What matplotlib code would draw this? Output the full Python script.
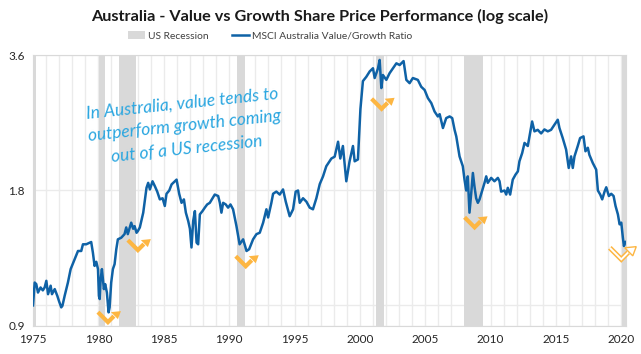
import numpy as np
import matplotlib
matplotlib.use("Agg")
import matplotlib.pyplot as plt
from matplotlib.ticker import FixedLocator, MultipleLocator, NullFormatter
from matplotlib.transforms import ScaledTranslation
from matplotlib.patches import Polygon
import matplotlib.patheffects as pe

plt.rcParams['font.family'] = ['Lato', 'DejaVu Sans']

# value/growth ratio (decimal year, ratio)
years = [1975.0, 1975.13, 1975.25, 1975.38, 1975.58, 1975.75, 1975.89, 1976.02, 1976.15, 1976.35,
         1976.45, 1976.66, 1976.86, 1977.0, 1977.16, 1977.25, 1977.42, 1977.67, 1977.88, 1978.13,
         1978.44, 1978.69, 1978.82, 1979.07, 1979.45, 1979.58, 1979.71, 1979.84, 1979.97, 1980.04,
         1980.1, 1980.17, 1980.27, 1980.42, 1980.52, 1980.65, 1980.78, 1980.86, 1980.98, 1981.11,
         1981.24, 1981.37, 1981.49, 1981.75, 1982.0, 1982.13, 1982.25, 1982.51, 1982.66, 1982.77,
         1982.92, 1983.02, 1983.17, 1983.43, 1983.68, 1983.81, 1983.94, 1984.14, 1984.32, 1984.5,
         1984.7, 1984.91, 1985.08, 1985.21, 1985.42, 1985.6, 1985.85, 1985.98, 1986.18, 1986.36,
         1986.54, 1986.69, 1986.87, 1987.0, 1987.12, 1987.25, 1987.38, 1987.51, 1987.63, 1987.76,
         1987.96, 1988.14, 1988.32, 1988.52, 1988.73, 1988.9, 1989.16, 1989.29, 1989.41, 1989.54,
         1989.74, 1989.92, 1990.1, 1990.3, 1990.56, 1990.8, 1991.07, 1991.33, 1991.53, 1991.83,
         1992.09, 1992.34, 1992.6, 1992.85, 1992.98, 1993.23, 1993.36, 1993.61, 1993.87, 1994.12,
         1994.33, 1994.63, 1994.89, 1995.09, 1995.27, 1995.4, 1995.65, 1995.91, 1996.16, 1996.41,
         1996.67, 1996.93, 1997.18, 1997.43, 1997.82, 1998.07, 1998.33, 1998.5, 1998.7, 1998.84,
         1998.96, 1999.21, 1999.47, 1999.6, 1999.85, 2000.04, 2000.23, 2000.49, 2000.75, 2001.0,
         2001.13, 2001.38, 2001.51, 2001.64, 2001.76, 2002.02, 2002.27, 2002.53, 2002.79, 2003.04,
         2003.34, 2003.55, 2003.8, 2004.05, 2004.43, 2004.69, 2004.95, 2005.2, 2005.46, 2005.71,
         2005.96, 2006.1, 2006.35, 2006.6, 2006.86, 2007.06, 2007.24, 2007.37, 2007.62, 2007.87,
         2008.0, 2008.13, 2008.25, 2008.38, 2008.51, 2008.64, 2008.76, 2008.89, 2009.02, 2009.15,
         2009.28, 2009.53, 2009.66, 2009.78, 2010.04, 2010.29, 2010.55, 2010.68, 2010.8, 2011.06,
         2011.19, 2011.31, 2011.49, 2011.69, 2011.9, 2012.08, 2012.2, 2012.41, 2012.59, 2012.84,
         2012.97, 2013.17, 2013.35, 2013.6, 2013.86, 2014.11, 2014.37, 2014.62, 2014.88, 2015.13,
         2015.26, 2015.51, 2015.77, 2015.97, 2016.15, 2016.28, 2016.41, 2016.66, 2016.84, 2017.1,
         2017.25, 2017.43, 2017.55, 2017.81, 2018.07, 2018.2, 2018.38, 2018.53, 2018.71, 2018.84,
         2019.04, 2019.22, 2019.4, 2019.55, 2019.73, 2019.86, 2019.99, 2020.11, 2020.19, 2020.32]
ratio = [1.00, 1.124, 1.115, 1.068, 1.096, 1.08, 1.096, 1.134, 1.059, 1.106,
         1.059, 1.087, 1.05, 1.02, 0.99, 0.998, 1.05, 1.124, 1.204, 1.255,
         1.321, 1.321, 1.367, 1.367, 1.383, 1.31, 1.224, 1.25, 1.204, 1.05,
         1.033, 1.143, 1.204, 1.087, 1.115, 1.068, 0.965, 0.99, 1.124, 1.204,
         1.235, 1.333, 1.402, 1.414, 1.44, 1.49, 1.44, 1.527, 1.48, 1.50,
         1.45, 1.463, 1.49, 1.607, 1.825, 1.872, 1.81, 1.887, 1.84, 1.79,
         1.72, 1.73, 1.663, 1.77, 1.80, 1.857, 1.887, 1.903, 1.77, 1.69,
         1.72, 1.607, 1.54, 1.48, 1.345, 1.54, 1.62, 1.379, 1.367, 1.593,
         1.62, 1.649, 1.676, 1.69, 1.73, 1.763, 1.75, 1.69, 1.607, 1.69,
         1.676, 1.649, 1.676, 1.635, 1.50, 1.367, 1.402, 1.321, 1.333, 1.402,
         1.44, 1.45, 1.527, 1.635, 1.568, 1.69, 1.77, 1.79, 1.763, 1.81,
         1.70, 1.578, 1.635, 1.79, 1.80, 1.69, 1.73, 1.70, 1.649, 1.635,
         1.73, 1.86, 1.935, 2.038, 2.12, 2.14, 2.31, 2.12, 2.26, 2.05,
         1.887, 2.09, 2.26, 2.09, 2.11, 2.73, 3.15, 3.22, 3.31, 3.364,
         3.2, 3.36, 3.51, 3.04, 3.25, 3.17, 3.28, 3.364, 3.45, 3.42,
         3.49, 3.17, 3.117, 3.2, 3.17, 3.06, 3.01, 2.888, 2.815, 2.696,
         2.629, 2.66, 2.478, 2.607, 2.629, 2.607, 2.455, 2.374, 2.143, 2.038,
         1.903, 1.80, 1.935, 1.607, 1.77, 1.969, 1.84, 1.73, 1.69, 1.72,
         1.77, 1.872, 1.935, 1.872, 1.92, 1.887, 1.92, 1.887, 1.79, 1.80,
         1.763, 1.825, 1.763, 1.903, 1.952, 1.985, 2.09, 2.18, 2.296, 2.26,
         2.374, 2.562, 2.436, 2.455, 2.41, 2.46, 2.436, 2.455, 2.52, 2.585,
         2.478, 2.354, 2.219, 2.02, 2.143, 2.02, 2.143, 2.26, 2.354, 2.374,
         2.2, 2.24, 2.16, 2.072, 2.003, 1.80, 1.763, 1.72, 1.79, 1.83,
         1.75, 1.77, 1.75, 1.663, 1.593, 1.514, 1.527, 1.414, 1.355, 1.383]

# US recessions (start, end)
rec_start = [1974.9, 1980.04, 1981.57, 1990.6, 2001.2, 2007.95, 2020.05]
rec_end = [1975.2, 1980.5, 1982.87, 1991.2, 2001.85, 2009.45, 2020.4]

# recovery arrows: (year, ratio) of the bottom of each chevron, last one hollow
arrow_x = [1980.73, 1983.02, 1991.27, 2001.66, 2008.77, 2019.99]
arrow_y = [0.918, 1.327, 1.222, 2.734, 1.491, 1.266]

yticks = [0.9, 1.8, 3.6]
xticks = list(range(1975, 2021, 5))

blue = '#0f62a6'
orange = '#fdb642'

fig = plt.figure(figsize=(6.41, 3.54), dpi=100)
ax = fig.add_axes([33/641, 1 - 326/354, (626 - 33)/641, (326 - 55)/354])

for s, e in zip(rec_start, rec_end):
    ax.axvspan(s, e, color='#d9d9d9', lw=0, zorder=1)
ax.axvspan(1900, 1901, color='#d9d9d9', lw=0, label='US Recession')

ax.plot(years, ratio, color=blue, lw=1.8, zorder=3, label='MSCI Australia Value/Growth Ratio')

ax.set_yscale('log')
ax.set_ylim(0.9, 3.6)
ax.set_xlim(1975, 2020.35)
ax.yaxis.set_major_locator(FixedLocator(yticks))
ax.yaxis.set_minor_locator(FixedLocator([1.0]))
ax.yaxis.set_minor_formatter(NullFormatter())
ax.set_yticklabels(['0.9', '1.8', '3.6'])
ax.xaxis.set_major_locator(FixedLocator(xticks))
ax.xaxis.set_minor_locator(MultipleLocator(1))
ax.grid(True, which='both', color='#ebebeb', lw=1, zorder=0)
ax.set_axisbelow(True)
ax.tick_params(which='both', length=0, labelsize=8.5, colors='#262626', pad=6)
for sp in ax.spines.values():
    sp.set_color('#d9d9d9')

fig.text(320/641, 1 - 16/354, 'Australia - Value vs Growth Share Price Performance (log scale)',
         ha='center', va='center', fontsize=11.7, fontweight='bold', color='#1a1a1a')
fig.legend(loc='center', bbox_to_anchor=(270/641, 1 - 36/354), ncol=2, frameon=False,
           fontsize=7.4, handlelength=1.7, columnspacing=2.3, handletextpad=0.25,
           labelcolor='#404040')

ax.text(1986.6, 2.50, 'In Australia, value tends to\noutperform growth coming\nout of a US recession',
        color='#2aa6e0', fontsize=12.5, style='italic', rotation=6, ha='center', va='center',
        linespacing=1.5, zorder=4)

# chevron arrows, sizes in inches (1 px = 0.01 in)
for i, (xa, ya) in enumerate(zip(arrow_x, arrow_y)):
    tr = fig.dpi_scale_trans + ScaledTranslation(xa, ya, ax.transData)
    hollow = i == len(arrow_x) - 1
    k = 1.15 if hollow else 1.0
    lx = np.array([-10, 0, 6]) * k / 100
    ly = np.array([10, 0, 6]) * k / 100
    head = np.array([[3.0, 10.0], [13.0, 11.0], [10.0, 3.0]]) * k / 100
    if hollow:
        ln, = ax.plot(lx, ly, color='white', lw=1.4, transform=tr, clip_on=False, zorder=5,
                      solid_joinstyle='miter', solid_capstyle='butt')
        ln.set_path_effects([pe.Stroke(linewidth=3.6, foreground=orange), pe.Normal()])
        ax.add_patch(Polygon(head, closed=True, fc='white', ec=orange, lw=1.0,
                             transform=tr, clip_on=False, zorder=6))
    else:
        ax.plot(lx, ly, color=orange, lw=3.0, transform=tr, clip_on=False, zorder=5,
                solid_joinstyle='miter', solid_capstyle='butt')
        ax.add_patch(Polygon(head, closed=True, fc=orange, ec='none',
                             transform=tr, clip_on=False, zorder=5))

fig.savefig('out.png', dpi=100)
